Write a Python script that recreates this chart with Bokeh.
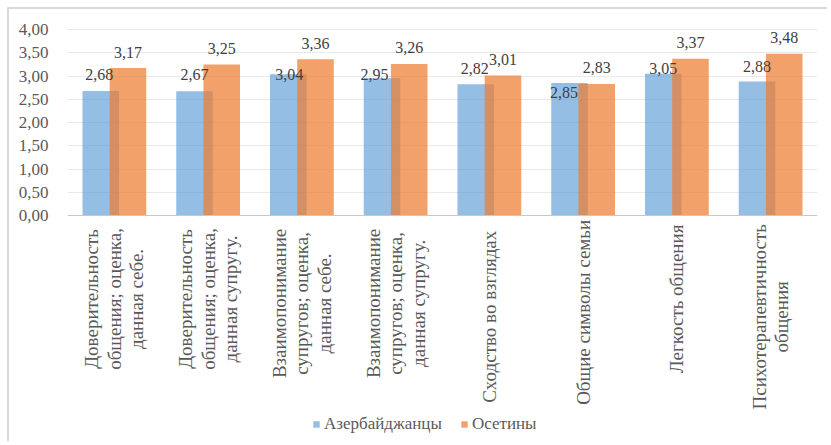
import math
from bokeh.plotting import figure
from bokeh.models import (ColumnDataSource, FactorRange, Range1d, FixedTicker,
                          Legend, LegendItem)
from bokeh.transform import dodge
from bokeh.core.properties import value
from bokeh.embed import file_html
from bokeh.resources import INLINE

categories = [
    "Доверительность\nобщения; оценка,\nданная себе.",
    "Доверительность\nобщения; оценка,\nданная супругу.",
    "Взаимопонимание\nсупругов; оценка,\nданная себе.",
    "Взаимопонимание\nсупругов; оценка,\nданная супругу.",
    "Сходство во взглядах",
    "Общие символы семьи",
    "Легкость общения",
    "Психотерапевтичность\nобщения",
]
azerbaijani = [2.68, 2.67, 3.04, 2.95, 2.82, 2.85, 3.05, 2.88]
ossetians = [3.17, 3.25, 3.36, 3.26, 3.01, 2.83, 3.37, 3.48]
series_names = ["Азербайджанцы", "Осетины"]
y_ticks = [0.0, 0.5, 1.0, 1.5, 2.0, 2.5, 3.0, 3.5, 4.0]

# label placement tweaks (screen px), as in the original chart
az_label_dx = [-1.5, 0, 1, -7.5, -1, -5.5, 0, 0]
az_label_dy = [-16, -17, 0, -4, -16, 10, -5, -15]

FONT = "Liberation Serif"
BLUE = "#5B9BD5"
ORANGE = "#ED7D31"
CAT_FS = 19

def fmt(v):
    return f"{v:.2f}".replace(".", ",")

# rotated category labels: keep the block's top just below the axis
cat_dy = [12 + max(len(s) for s in c.split("\n")) * 0.47 * CAT_FS / 2 for c in categories]

src = ColumnDataSource(dict(
    cat=categories,
    zero=[0] * len(categories),
    az=azerbaijani,
    os=ossetians,
    az_txt=[fmt(v) for v in azerbaijani],
    os_txt=[fmt(v) for v in ossetians],
    az_dx=az_label_dx,
    az_dy=az_label_dy,
    cat_dy=cat_dy,
))

# pixel layout: value 0 at page y=215, 4.00 at y=29
PX_PER_UNIT = 46.5
Y0 = 215
frame_top, frame_bottom = 22, 443
y_lo = (Y0 - frame_bottom) / PX_PER_UNIT
y_hi = (Y0 - frame_top) / PX_PER_UNIT

p = figure(width=820, height=434, output_backend="svg", toolbar_location=None,
           x_range=FactorRange(*categories, range_padding=0),
           y_range=Range1d(y_lo, y_hi),
           min_border_left=58, min_border_right=12,
           min_border_top=13, min_border_bottom=0)
p.outline_line_color = None
p.background_fill_color = "white"
p.border_fill_color = "white"
p.styles = {"margin-left": "7px", "margin-top": "7px",
            "border-left": "2px solid #d9d9d9", "border-top": "2px solid #d9d9d9"}

off = 0.145
w = 0.39
r_az = p.vbar(x=dodge("cat", -off, range=p.x_range), top="az", width=w, source=src,
              fill_color=BLUE, fill_alpha=0.65, line_color=None)
r_os = p.vbar(x=dodge("cat", off, range=p.x_range), top="os", width=w, source=src,
              fill_color=ORANGE, fill_alpha=0.72, line_color=None)

# baseline (category axis line)
p.hspan(y=[0], line_color="#c8c8c8", line_width=1.2)

p.text(x=dodge("cat", -off, range=p.x_range), y="az", text="az_txt", source=src,
       x_offset="az_dx", y_offset="az_dy",
       text_align="center", text_baseline="middle",
       text_font=value(FONT), text_font_size="16px", text_color="#404040")
p.text(x=dodge("cat", off, range=p.x_range), y="os", text="os_txt", source=src,
       y_offset=-16,
       text_align="center", text_baseline="middle",
       text_font=value(FONT), text_font_size="16px", text_color="#404040")

# category labels
p.text(x="cat", y="zero", text="cat", source=src, y_offset="cat_dy",
       angle=math.pi / 2, text_align="center", text_baseline="middle",
       text_font=value(FONT), text_font_size=f"{CAT_FS}px",
       text_color="#595959", text_line_height=1.07)

# y axis
p.yaxis.ticker = FixedTicker(ticks=y_ticks)
p.yaxis.major_label_overrides = {t: fmt(t) for t in y_ticks}
p.yaxis.axis_line_color = None
p.yaxis.major_tick_line_color = None
p.yaxis.minor_tick_line_color = None
p.yaxis.major_label_standoff = 13
p.yaxis.major_label_text_font = FONT
p.yaxis.major_label_text_font_size = "17px"
p.yaxis.major_label_text_color = "#595959"

p.ygrid.grid_line_color = "#e9e9e9"
p.ygrid.ticker = FixedTicker(ticks=y_ticks)
p.xgrid.grid_line_color = None
p.xaxis.visible = False

legend = Legend(items=[LegendItem(label=series_names[0], renderers=[r_az]),
                       LegendItem(label=series_names[1], renderers=[r_os])],
                orientation="horizontal", location=(245, 9),
                glyph_width=8, glyph_height=8, label_standoff=4, spacing=18,
                label_text_font=FONT, label_text_font_size="17px",
                label_text_color="#595959",
                border_line_color=None, background_fill_alpha=0,
                padding=0, margin=0)
p.add_layout(legend, "center")

open("out.html", "w").write(file_html(p, INLINE))
